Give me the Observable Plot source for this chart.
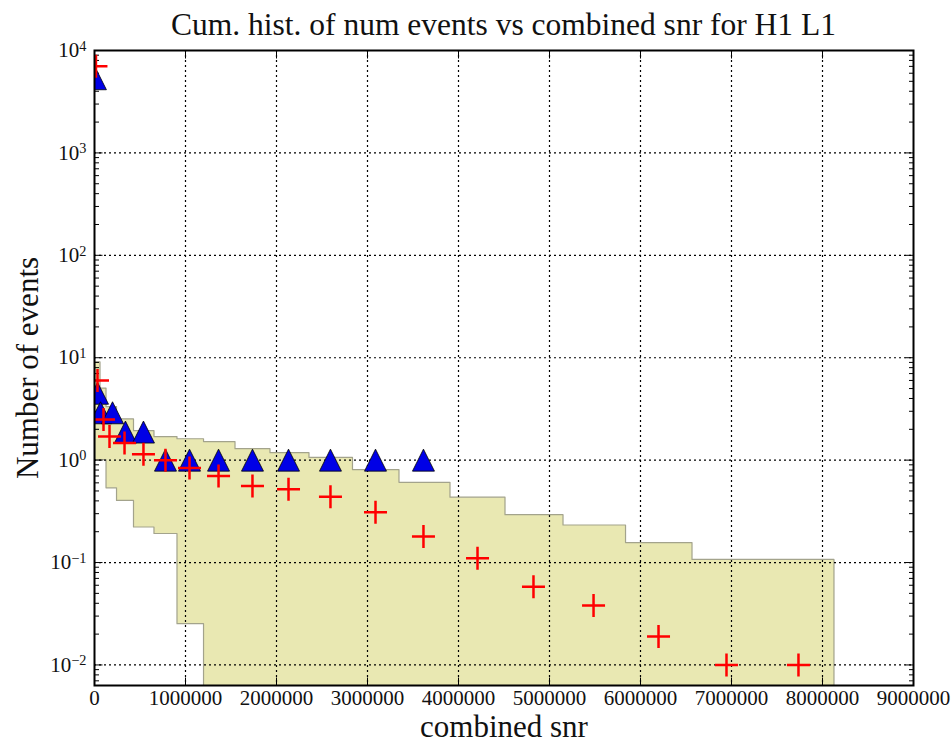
<!DOCTYPE html>
<html>
<head>
<meta charset="utf-8">
<script src="https://cdn.jsdelivr.net/npm/d3@7"></script>
<script src="https://cdn.jsdelivr.net/npm/@observablehq/plot@0.6"></script>
<style>
  html, body { margin: 0; padding: 0; background: white; }
  #title { box-sizing: border-box; width: 952px; height: 44px; padding-left: 55px; text-align: center;
           font: 31.5px "Liberation Serif", serif; line-height: 50px; color: #111; white-space: nowrap; }
  #chart svg text { font-family: "Liberation Serif", serif; }
  #chart g[aria-label="x-axis tick label"], #chart g[aria-label="y-axis tick label"] { font-size: 21px; }
  #chart g[aria-label="x-axis tick label"] text, #chart g[aria-label="y-axis tick label"] text { font-size: 21px; }
</style>
</head>
<body>
<div id="title">Cum. hist. of num events vs combined snr for H1 L1</div>
<div id="chart"></div>
<script>
// ---- data ----
const bgSnr   = [16000, 33000, 99000, 165000, 330000, 538000, 780000, 1044000, 1363000, 1736000, 2132000, 2593000, 3088000, 3615000, 4209000, 4824000, 5484000, 6198000, 6945000, 7736000];
const bgCount = [7000, 6.0, 2.5, 1.7, 1.47, 1.14, 1.0, 0.84, 0.70, 0.56, 0.52, 0.44, 0.31, 0.18, 0.11, 0.058, 0.038, 0.019, 0.01, 0.01];
const bgUpper = [9, 9, 5, 3.3, 2.5, 1.92, 1.68, 1.60, 1.50, 1.28, 1.17, 1.05, 0.80, 0.60, 0.43, 0.29, 0.23, 0.155, 0.106, 0.106];
const bgLower = [1, 1, 1, 0.53, 0.40, 0.22, 0.19, 0.025, 0, 0, 0, 0, 0, 0, 0, 0, 0, 0, 0, 0];
const fgSnr   = [10000, 33000, 66000, 198000, 340000, 538000, 780000, 1044000, 1363000, 1736000, 2132000, 2593000, 3088000, 3615000];
const fgCount = [5300, 4.5, 2.9, 2.9, 1.88, 1.88, 1, 1, 1, 1, 1, 1, 1, 1];
const xTicks  = [0, 1000000, 2000000, 3000000, 4000000, 5000000, 6000000, 7000000, 8000000, 9000000];
const yTicks  = [1e-2, 1e-1, 1, 10, 100, 1000, 10000];
const xLabel  = "combined snr";
const yLabel  = "Number of events";

const xMin = 0, xMax = 9000000, yMin = 0.0063, yMax = 10000;

// minor log ticks
const yMinor = [];
for (let k = -3; k <= 3; k++) for (let m = 2; m <= 9; m++) {
  const v = m * Math.pow(10, k);
  if (v > yMin && v < yMax) yMinor.push(v);
}

// step band: bins centred on the background points, edges at midpoints
const n = bgSnr.length;
const edges = [bgSnr[0] - (bgSnr[1] - bgSnr[0]) / 2];
for (let i = 1; i < n; i++) edges.push((bgSnr[i - 1] + bgSnr[i]) / 2);
edges.push(bgSnr[n - 1] + (bgSnr[n - 1] - bgSnr[n - 2]) / 2);
const band = [];
for (let i = 0; i < n; i++) {
  const lo = bgLower[i] > 0 ? bgLower[i] : 1e-4;
  band.push({x: edges[i], lo, up: bgUpper[i]});
  band.push({x: edges[i + 1], lo, up: bgUpper[i]});
}

const bg = bgSnr.map((x, i) => ({x, y: bgCount[i]}));
const fg = fgSnr.map((x, i) => ({x, y: fgCount[i]}));

// custom symbols
const plusSym = {draw(c, s) { const r = Math.sqrt(s / Math.PI); c.moveTo(-r, 0); c.lineTo(r, 0); c.moveTo(0, -r); c.lineTo(0, r); }};
const triSym  = {draw(c, s) { const r = Math.sqrt(s / Math.PI); c.moveTo(0, -r); c.lineTo(r, r); c.lineTo(-r, r); c.closePath(); }};
const tick = (dx, dy) => ({draw(c) { c.moveTo(0, 0); c.lineTo(dx, dy); }});
const MAJ = 8, MIN = 4.5;

const serif = "Liberation Serif";

const plot = Plot.plot({
  width: 952, height: 700,
  marginTop: 6, marginBottom: 59, marginLeft: 94, marginRight: 39,
  x: {domain: [xMin, xMax]},
  y: {type: "log", domain: [yMin, yMax]},
  style: {fontFamily: serif, background: "white", color: "#111", overflow: "visible"},
  marks: [
    Plot.areaY(band, {x: "x", y1: "lo", y2: "up", fill: "#e9e8b2", stroke: "#a3a38c", strokeWidth: 1.2, curve: "linear", clip: "frame"}),
    Plot.gridX(xTicks.slice(1, -1), {stroke: "black", strokeOpacity: 1, strokeWidth: 1.2, strokeDasharray: "2,3"}),
    Plot.gridY(yTicks, {stroke: "black", strokeOpacity: 1, strokeWidth: 1.2, strokeDasharray: "2,3"}),
    // ticks (inward, all four sides)
    Plot.dot(xTicks, {x: d => d, y: () => yMin, symbol: tick(0, -MAJ), fill: "none", stroke: "black", strokeWidth: 1}),
    Plot.dot(xTicks, {x: d => d, y: () => yMax, symbol: tick(0, MAJ), fill: "none", stroke: "black", strokeWidth: 1}),
    Plot.dot(yTicks, {x: () => xMin, y: d => d, symbol: tick(MAJ, 0), fill: "none", stroke: "black", strokeWidth: 1}),
    Plot.dot(yTicks, {x: () => xMax, y: d => d, symbol: tick(-MAJ, 0), fill: "none", stroke: "black", strokeWidth: 1}),
    Plot.dot(yMinor, {x: () => xMin, y: d => d, symbol: tick(MIN, 0), fill: "none", stroke: "black", strokeWidth: 1}),
    Plot.dot(yMinor, {x: () => xMax, y: d => d, symbol: tick(-MIN, 0), fill: "none", stroke: "black", strokeWidth: 1}),
    // data markers
    Plot.dot(fg, {x: "x", y: "y", symbol: triSym, r: 11, fill: "#0000e6", stroke: "black", strokeWidth: 0.8, clip: "frame"}),
    Plot.dot(bg, {x: "x", y: "y", symbol: plusSym, r: 11.5, fill: "none", stroke: "#ff0000", strokeWidth: 2.5, clip: "frame"}),
    Plot.frame({stroke: "black", strokeWidth: 2}),
    Plot.axisX({ticks: xTicks, tickFormat: d => String(d), tickSize: 0, tickPadding: 5, fontSize: 21, label: null}),
    Plot.axisY({ticks: yTicks, tickFormat: d => "10|" + Math.round(Math.log10(d)), tickSize: 0, tickPadding: 8, fontSize: 21, label: null}),
    Plot.text([xLabel], {text: d => d, frameAnchor: "bottom", dy: 42, lineAnchor: "middle", fontSize: 31, fill: "#111"}),
    Plot.text([yLabel], {text: d => d, frameAnchor: "left", dx: -66, rotate: -90, lineAnchor: "middle", textAnchor: "middle", fontSize: 31, fill: "#111"})
  ]
});

// superscript exponents on the log tick labels; serif font on tick labels
plot.querySelectorAll("text").forEach(t => {
  const s = t.textContent;
  if (/^10\|/.test(s)) {
    const e = s.split("|")[1].replace("-", "\u2212");
    while (t.firstChild) t.removeChild(t.firstChild);
    t.appendChild(document.createTextNode("10"));
    const sup = document.createElementNS("http://www.w3.org/2000/svg", "tspan");
    sup.setAttribute("dy", "-0.45em");
    sup.setAttribute("font-size", "0.68em");
    sup.textContent = e;
    t.appendChild(sup);
  }
});

document.getElementById("chart").appendChild(plot);
</script>
</body>
</html>
